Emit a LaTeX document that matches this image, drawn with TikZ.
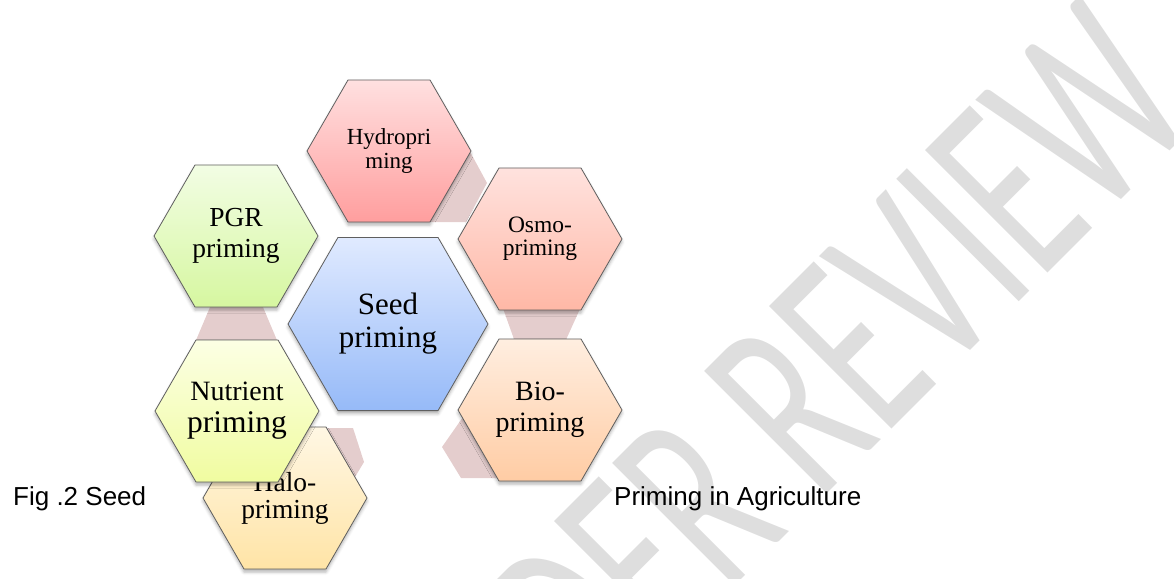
\documentclass[tikz,border=0pt]{standalone}
\usepackage{fontspec}
\setmainfont{Liberation Serif}
\newfontfamily\capfont{Liberation Sans}
\newfontfamily\wmfont{Carlito}
\usetikzlibrary{shapes.geometric,shadows.blur}
\definecolor{hexline}{RGB}{95,95,95}
\definecolor{tabpink}{RGB}{228,205,205}
\definecolor{wmgray}{RGB}{222,222,222}
\definecolor{hydroT}{RGB}{255,224,224}\definecolor{hydroB}{RGB}{255,158,158}
\definecolor{osmoT}{RGB}{255,226,222}\definecolor{osmoB}{RGB}{255,184,166}
\definecolor{bioT}{RGB}{255,238,224}\definecolor{bioB}{RGB}{255,204,164}
\definecolor{haloT}{RGB}{255,247,228}\definecolor{haloB}{RGB}{255,228,166}
\definecolor{nutrT}{RGB}{252,255,228}\definecolor{nutrB}{RGB}{240,252,160}
\definecolor{pgrT}{RGB}{242,253,228}\definecolor{pgrB}{RGB}{214,247,160}
\definecolor{seedT}{RGB}{224,234,255}\definecolor{seedB}{RGB}{150,186,248}
\begin{document}
\begin{tikzpicture}[x=1pt,y=-1pt,
  hexa/.style={regular polygon, regular polygon sides=6, minimum size=164pt,
    inner sep=0pt, outer sep=0pt, draw=hexline, line width=0.8pt, align=center,
    blur shadow={shadow xshift=0pt, shadow yshift=-3pt, shadow blur radius=3pt, shadow opacity=30}},
  tab/.style={fill=tabpink, draw=none},
  captext/.style={font=\capfont\fontsize{26}{30}\selectfont, anchor=base west, inner sep=0pt}]
\useasboundingbox (0,0) rectangle (1174,578);
% watermark
\begin{scope}
\clip (0,0) rectangle (1174,578);
\node[rotate=45, xscale=0.625, anchor=center, inner sep=0pt, text=wmgray,
      font=\wmfont\fontsize{270}{270}\selectfont] (wm) at (762,438) {UNDER REVIEW};
\end{scope}
% connector tabs behind hexagons
\fill[tab] (468,148) -- (487,183) -- (466,222) -- (420,222) -- (400,185) -- (430,148) -- cycle;
\fill[tab] (213,300) -- (260,300) -- (279,345) -- (194,345) -- cycle;
\fill[tab] (500,300) -- (584,300) -- (565,342) -- (515,342) -- cycle;
\fill[tab] (320,428) -- (353,428) -- (364,462) -- (352,482) -- (330,482) -- cycle;
\fill[tab] (463,417) -- (442,447) -- (461,478) -- (500,478) -- (500,417) -- cycle;
% hexagons
\node[hexa, top color=hydroT, bottom color=hydroB, font=\fontsize{23}{24.5}\selectfont] (hydro) at (389,151) {Hydropri\\ming};
\node[hexa, top color=pgrT, bottom color=pgrB, font=\fontsize{27.5}{31}\selectfont] (pgr) at (236,236) {PGR\\priming};
\node[hexa, top color=osmoT, bottom color=osmoB, font=\fontsize{23.5}{23.5}\selectfont] (osmo) at (540,239) {Osmo-\\priming};
\node[hexa, minimum size=200pt, top color=seedT, bottom color=seedB, font=\fontsize{31}{33}\selectfont] (seed) at (388,324) {Seed\\priming};
\node[hexa, top color=haloT, bottom color=haloB, font=\fontsize{27.5}{27}\selectfont] (halo) at (285,498) {Halo-\\priming};
\node[hexa, top color=nutrT, bottom color=nutrB, font=\fontsize{31.5}{32}\selectfont] (nutr) at (237,411) {{\fontsize{28}{32}\selectfont Nutrient}\\priming};
\node[hexa, top color=bioT, bottom color=bioB, font=\fontsize{28}{31}\selectfont] (bio) at (540,410) {Bio-\\priming};
% caption
\node[captext] (cap1) at (13,505) {Fig .2 Seed};
\node[captext] (cap2) at (614,505) {Priming in Agriculture};
\end{tikzpicture}
\end{document}
